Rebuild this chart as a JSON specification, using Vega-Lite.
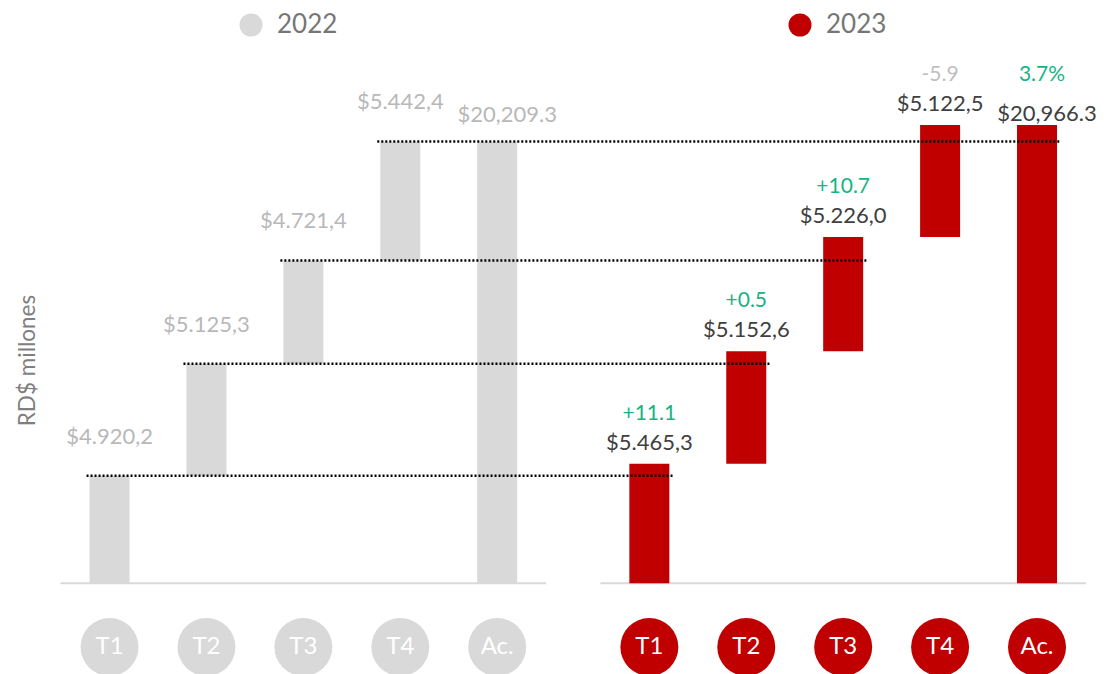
{
  "$schema": "https://vega.github.io/schema/vega-lite/v6.json",
  "width": 1104,
  "height": 674,
  "autosize": "none",
  "padding": 0,
  "background": "white",
  "config": {"view": {"stroke": null}, "font": "Lato"},
  "datasets": {
    "bars": [
      {"year": "2022", "q": "T1", "pos": 1, "start": 0, "end": 4920.2, "label": "$4.920,2", "chg": ""},
      {"year": "2022", "q": "T2", "pos": 2, "start": 4920.2, "end": 10045.5, "label": "$5.125,3", "chg": ""},
      {"year": "2022", "q": "T3", "pos": 3, "start": 10045.5, "end": 14766.9, "label": "$4.721,4", "chg": ""},
      {"year": "2022", "q": "T4", "pos": 4, "start": 14766.9, "end": 20209.3, "label": "$5.442,4", "chg": ""},
      {"year": "2022", "q": "Ac.", "pos": 5, "start": 0, "end": 20209.3, "label": "$20,209.3", "chg": ""},
      {"year": "2023", "q": "T1", "pos": 6.57, "start": 0, "end": 5465.3, "label": "$5.465,3", "chg": "+11.1"},
      {"year": "2023", "q": "T2", "pos": 7.57, "start": 5465.3, "end": 10617.9, "label": "$5.152,6", "chg": "+0.5"},
      {"year": "2023", "q": "T3", "pos": 8.57, "start": 10617.9, "end": 15843.9, "label": "$5.226,0", "chg": "+10.7"},
      {"year": "2023", "q": "T4", "pos": 9.57, "start": 15843.9, "end": 20966.4, "label": "$5.122,5", "chg": "-5.9"},
      {"year": "2023", "q": "Ac.", "pos": 10.57, "start": 0, "end": 20966.3, "label": "$20,966.3", "chg": "3.7%"}
    ],
    "links": [
      {"pos": 1, "to": 6.57, "v": 4920.2},
      {"pos": 2, "to": 7.57, "v": 10045.5},
      {"pos": 3, "to": 8.57, "v": 14766.9},
      {"pos": 4, "to": 10.57, "v": 20209.3}
    ]
  },
  "encoding": {
    "x": {"field": "pos", "type": "quantitative", "scale": {"domain": [-0.0787, 11.2096], "nice": false, "zero": false}, "axis": null}
  },
  "layer": [
    {
      "data": {"name": "bars"},
      "transform": [
        {"aggregate": [{"op": "min", "field": "pos", "as": "pos"}, {"op": "max", "field": "pos", "as": "hi"}], "groupby": ["year"]}
      ],
      "mark": {"type": "rule", "color": "#d9d9d9", "strokeWidth": 2, "xOffset": -49, "x2Offset": 49},
      "encoding": {
        "x2": {"field": "hi"},
        "y": {"datum": 0, "type": "quantitative", "scale": {"domain": [-4149, 26681], "nice": false, "zero": false}}
      }
    },
    {
      "data": {"name": "bars"},
      "mark": {"type": "bar", "size": 40},
      "encoding": {
        "y": {
          "field": "end", "type": "quantitative",
          "scale": {"domain": [-4149, 26681], "nice": false, "zero": false},
          "axis": {"title": "RD$ millones", "labels": false, "ticks": false, "domain": false, "grid": false,
                   "titleFont": "Lato", "titleFontSize": 22.5, "titleFontWeight": "normal", "titleColor": "#7f7f7f",
                   "titleAngle": 270, "titleAlign": "center", "titleBaseline": "middle", "titleX": 27, "titleY": 360}
        },
        "y2": {"field": "start"},
        "color": {
          "field": "year", "type": "nominal",
          "scale": {"domain": ["2022", "2023"], "range": ["#d9d9d9", "#c00000"]},
          "legend": {"title": null, "orient": "none", "legendX": 238, "legendY": 12, "direction": "horizontal",
                     "symbolType": "circle", "symbolSize": 529, "symbolStrokeWidth": 0, "symbolOpacity": 1,
                     "labelFont": "Lato", "labelFontSize": 26, "labelColor": "#767676", "labelOffset": 13,
                     "columnPadding": 449, "padding": 0}
        }
      }
    },
    {
      "data": {"name": "links"},
      "mark": {"type": "rule", "color": "#000000", "strokeWidth": 2.4, "strokeDash": [2, 2], "xOffset": -23, "x2Offset": 24},
      "encoding": {
        "x2": {"field": "to"},
        "y": {"field": "v", "type": "quantitative", "scale": {"domain": [-4149, 26681], "nice": false, "zero": false}}
      }
    },
    {
      "data": {"name": "bars"},
      "transform": [{"filter": "datum.year == '2022' && datum.q != 'Ac.'"}],
      "mark": {"type": "text", "fontSize": 22, "color": "#b8b8b8", "baseline": "middle", "dy": -39},
      "encoding": {
        "y": {"field": "end", "type": "quantitative", "scale": {"domain": [-4149, 26681], "nice": false, "zero": false}},
        "text": {"field": "label"}
      }
    },
    {
      "data": {"name": "bars"},
      "transform": [{"filter": "datum.year == '2022' && datum.q == 'Ac.'"}],
      "mark": {"type": "text", "fontSize": 22, "color": "#b8b8b8", "baseline": "middle", "dy": -26, "dx": 10},
      "encoding": {
        "y": {"field": "end", "type": "quantitative", "scale": {"domain": [-4149, 26681], "nice": false, "zero": false}},
        "text": {"field": "label"}
      }
    },
    {
      "data": {"name": "bars"},
      "transform": [{"filter": "datum.year == '2023' && datum.q != 'Ac.'"}],
      "mark": {"type": "text", "fontSize": 22, "color": "#404040", "baseline": "middle", "dy": -21},
      "encoding": {
        "y": {"field": "end", "type": "quantitative", "scale": {"domain": [-4149, 26681], "nice": false, "zero": false}},
        "text": {"field": "label"}
      }
    },
    {
      "data": {"name": "bars"},
      "transform": [{"filter": "datum.year == '2023' && datum.q == 'Ac.'"}],
      "mark": {"type": "text", "fontSize": 22, "color": "#404040", "baseline": "middle", "dy": -11, "dx": 10},
      "encoding": {
        "y": {"field": "end", "type": "quantitative", "scale": {"domain": [-4149, 26681], "nice": false, "zero": false}},
        "text": {"field": "label"}
      }
    },
    {
      "data": {"name": "bars"},
      "transform": [{"filter": "datum.year == '2023' && datum.q != 'Ac.'"}],
      "mark": {"type": "text", "fontSize": 21, "baseline": "middle", "dy": -50},
      "encoding": {
        "y": {"field": "end", "type": "quantitative", "scale": {"domain": [-4149, 26681], "nice": false, "zero": false}},
        "text": {"field": "chg"},
        "color": {"condition": {"test": "indexof(datum.chg, '-') == 0", "value": "#bfbfbf"}, "value": "#17b384"}
      }
    },
    {
      "data": {"name": "bars"},
      "transform": [{"filter": "datum.year == '2023' && datum.q == 'Ac.'"}],
      "mark": {"type": "text", "fontSize": 21, "baseline": "middle", "dy": -50, "dx": 5, "color": "#17b384"},
      "encoding": {
        "y": {"field": "end", "type": "quantitative", "scale": {"domain": [-4149, 26681], "nice": false, "zero": false}},
        "text": {"field": "chg"}
      }
    },
    {
      "data": {"name": "bars"},
      "mark": {"type": "circle", "size": 3364, "opacity": 1},
      "encoding": {
        "y": {"datum": -2914, "type": "quantitative", "scale": {"domain": [-4149, 26681], "nice": false, "zero": false}},
        "color": {"field": "year", "type": "nominal"}
      }
    },
    {
      "data": {"name": "bars"},
      "mark": {"type": "text", "fontSize": 24, "color": "white", "baseline": "middle"},
      "encoding": {
        "y": {"datum": -2914, "type": "quantitative", "scale": {"domain": [-4149, 26681], "nice": false, "zero": false}},
        "text": {"field": "q"}
      }
    }
  ]
}
